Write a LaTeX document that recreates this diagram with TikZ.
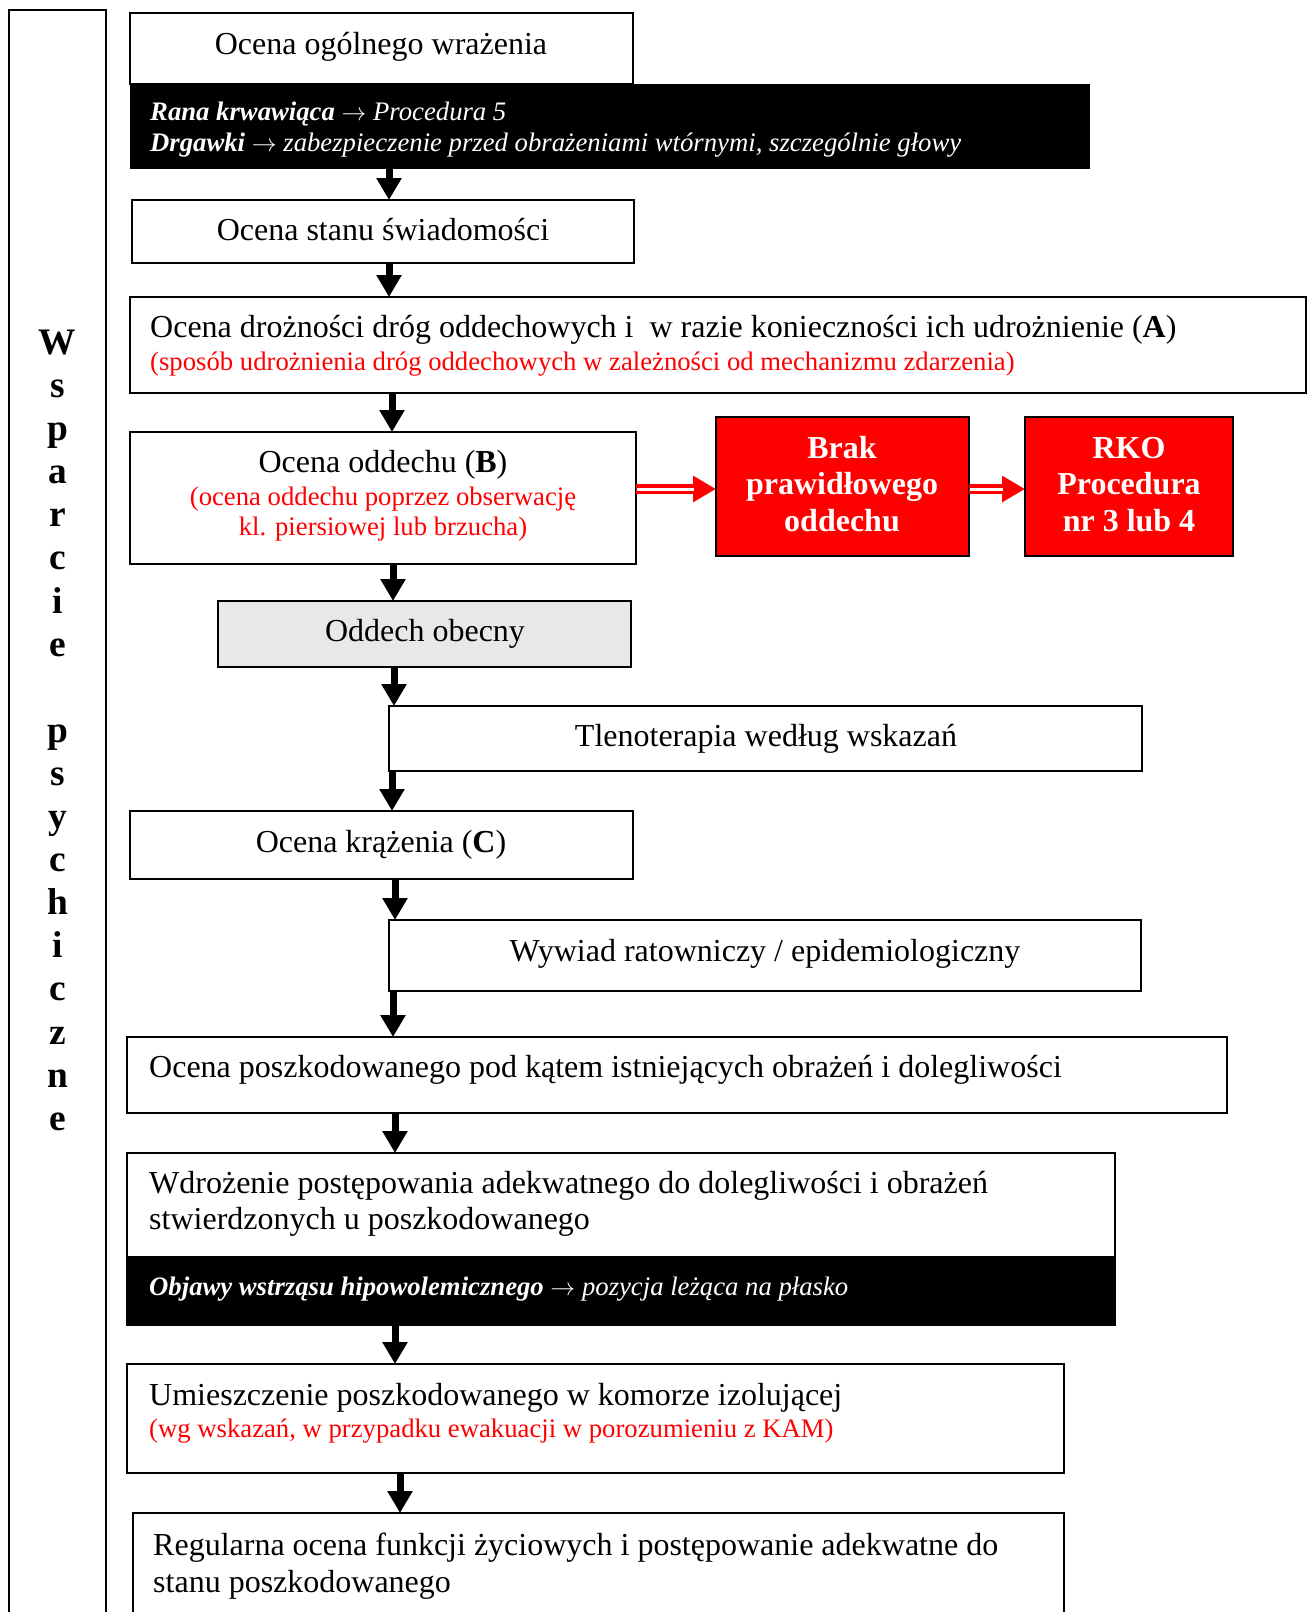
\documentclass[tikz,border=0pt]{standalone}
\usepackage{fontspec}
\setmainfont{Liberation Serif}
\usetikzlibrary{arrows.meta}

\definecolor{panelgray}{RGB}{232,232,232}
\newcommand{\thenarrow}{\ensuremath{\rightarrow}}

\begin{document}
\begin{tikzpicture}[x=1pt,y=-1pt,
  box/.style={draw=black, line width=2pt, anchor=north west, inner sep=0pt, outer sep=0pt},
  blackbar/.style={fill=black, draw=black, line width=1pt, anchor=north west, inner sep=0pt, outer sep=0pt},
  redbox/.style={fill=red, draw=black, line width=1.8pt, anchor=north west, inner sep=0pt, outer sep=0pt},
  big/.style={font=\fontsize{32}{36.8}\selectfont, inner sep=0pt, anchor=base},
  bigleft/.style={big, anchor=base west},
  small/.style={font=\fontsize{26.7}{30.7}\selectfont, inner sep=0pt, anchor=base},
  redsmall/.style={small, text=red},
  redleft/.style={small, text=red, anchor=base west},
  bartxt/.style={small, text=white, anchor=base west},
  alarm/.style={font=\fontsize{32}{36}\bfseries\selectfont, text=white, inner sep=0pt, anchor=base},
  lettr/.style={font=\fontsize{37.4}{43}\bfseries\selectfont, inner sep=0pt, anchor=base},
  arr/.style={line width=7pt, -{Triangle[length=22pt,width=24pt]}},
  redarr/.style={red, line width=10pt, -{Triangle[length=23pt,width=25pt]}},
  redcore/.style={white, line width=3pt, shorten >=22pt, shorten <=1.2pt}
]
\useasboundingbox (0,0) rectangle (1312,1612);

% side panel with stacked letters
\node[box, minimum width=97pt, minimum height=1640pt] (side) at (9,10) {};
\foreach \ch [count=\i from 0] in {W,s,p,a,r,c,i,e}
  \node[lettr] (wa\i) at (57.5,{354.4+43.1*\i}) {\ch};
\foreach \ch [count=\i from 9] in {p,s,y,c,h,i,c,z,n,e}
  \node[lettr] (wb\i) at (57.5,{354.4+43.1*\i}) {\ch};

% general impression
\node[box, minimum width=503pt, minimum height=71pt] (b1) at (130,13) {};
\node[big] (t1) at (381,54) {Ocena ogólnego wrażenia};
\node[blackbar, minimum width=959pt, minimum height=84pt] (bar1) at (130,84) {};
\node[bartxt] (bar1a) at (150,120) {\textbf{\textit{Rana krwawiąca}} \textit{\thenarrow{} Procedura 5}};
\node[bartxt] (bar1b) at (150,151) {\textbf{\textit{Drgawki}} \textit{\thenarrow{} zabezpieczenie przed obrażeniami wtórnymi, szczególnie głowy}};

% consciousness
\node[box, minimum width=502pt, minimum height=63pt] (b2) at (132,200) {};
\node[big] (t2) at (383,240) {Ocena stanu świadomości};

% airway (A)
\node[box, minimum width=1176pt, minimum height=96pt] (b3) at (130,297) {};
\node[bigleft] (t3a) at (150,337) {Ocena drożności dróg oddechowych i\ \ w razie konieczności ich udrożnienie (\textbf{A})};
\node[redleft] (t3b) at (150,370) {(sposób udrożnienia dróg oddechowych w zależności od mechanizmu zdarzenia)};

% breathing (B)
\node[box, minimum width=506pt, minimum height=132pt] (bB) at (130,432) {};
\node[big] (tBa) at (383,472) {Ocena oddechu (\textbf{B})};
\node[redsmall] (tBb) at (383,505) {(ocena oddechu poprzez obserwację};
\node[redsmall] (tBc) at (383,535) {kl. piersiowej lub brzucha)};

% no breathing branch
\node[redbox, minimum width=253pt, minimum height=139pt] (r1) at (716,417) {};
\node[alarm] (r1a) at (842,458) {Brak};
\node[alarm] (r1b) at (842,494) {prawidłowego};
\node[alarm] (r1c) at (842,531) {oddechu};
\node[redbox, minimum width=208pt, minimum height=139pt] (r2) at (1025,417) {};
\node[alarm] (r2a) at (1129,458) {RKO};
\node[alarm] (r2b) at (1129,494) {Procedura};
\node[alarm] (r2c) at (1129,531) {nr 3 lub 4};

% breathing present
\node[box, fill=panelgray, minimum width=413pt, minimum height=66pt] (bO) at (218,601) {};
\node[big] (tO) at (425,641) {Oddech obecny};

% oxygen
\node[box, minimum width=753pt, minimum height=65pt] (bT) at (389,706) {};
\node[big] (tT) at (766,746) {Tlenoterapia według wskazań};

% circulation (C)
\node[box, minimum width=503pt, minimum height=68pt] (bC) at (130,811) {};
\node[big] (tC) at (381,852) {Ocena krążenia (\textbf{C})};

% interview
\node[box, minimum width=752pt, minimum height=71pt] (bW) at (389,920) {};
\node[big] (tW) at (765,961) {Wywiad ratowniczy / epidemiologiczny};

% injuries assessment
\node[box, minimum width=1100pt, minimum height=76pt] (bP) at (127,1037) {};
\node[bigleft] (tP) at (149,1077) {Ocena poszkodowanego pod kątem istniejących obrażeń i dolegliwości};

% treatment
\node[box, minimum width=988pt, minimum height=172pt] (bD) at (127,1153) {};
\node[bigleft] (tDa) at (149,1193) {Wdrożenie postępowania adekwatnego do dolegliwości i obrażeń};
\node[bigleft] (tDb) at (149,1229) {stwierdzonych u poszkodowanego};
\node[blackbar, minimum width=988pt, minimum height=69pt] (bar2) at (127,1256) {};
\node[bartxt] (bar2a) at (149,1295) {\textbf{\textit{Objawy wstrząsu hipowolemicznego}} \textit{\thenarrow{} pozycja leżąca na płasko}};

% isolation chamber
\node[box, minimum width=937pt, minimum height=109pt] (bU) at (127,1364) {};
\node[bigleft] (tUa) at (149,1405) {Umieszczenie poszkodowanego w komorze izolującej};
\node[redleft] (tUb) at (149,1437) {(wg wskazań, w przypadku ewakuacji w porozumieniu z KAM)};

% monitoring
\node[box, minimum width=931pt, minimum height=130pt] (bR) at (133,1513) {};
\node[bigleft] (tRa) at (153,1555) {Regularna ocena funkcji życiowych i postępowanie adekwatne do};
\node[bigleft] (tRb) at (153,1592) {stanu poszkodowanego};

% main flow arrows
\draw[arr] (bar1.south -| 389,0) -- (b2.north -| 389,0);
\draw[arr] (b2.south -| 389,0) -- (b3.north -| 389,0);
\draw[arr] (b3.south -| 392,0) -- (bB.north -| 392,0);
\draw[arr] (bB.south -| 393,0) -- (bO.north -| 393,0);
\draw[arr] (bO.south -| 394,0) -- (bT.north -| 394,0);
\draw[arr] (bT.south -| 392,0) -- (bC.north -| 392,0);
\draw[arr] (bC.south -| 395,0) -- (bW.north -| 395,0);
\draw[arr] (bW.south -| 393,0) -- (bP.north -| 393,0);
\draw[arr] (bP.south -| 395,0) -- (bD.north -| 395,0);
\draw[arr] (bar2.south -| 395,0) -- (bU.north -| 395,0);
\draw[arr] (bU.south -| 400,0) -- (bR.north -| 400,0);

% red double arrows
\draw[redarr] (bB.east |- 0,489) -- (r1.west |- 0,489);
\draw[redcore] (bB.east |- 0,489) -- (r1.west |- 0,489);
\draw[redarr] (r1.east |- 0,489) -- (r2.west |- 0,489);
\draw[redcore] (r1.east |- 0,489) -- (r2.west |- 0,489);
\end{tikzpicture}
\end{document}
